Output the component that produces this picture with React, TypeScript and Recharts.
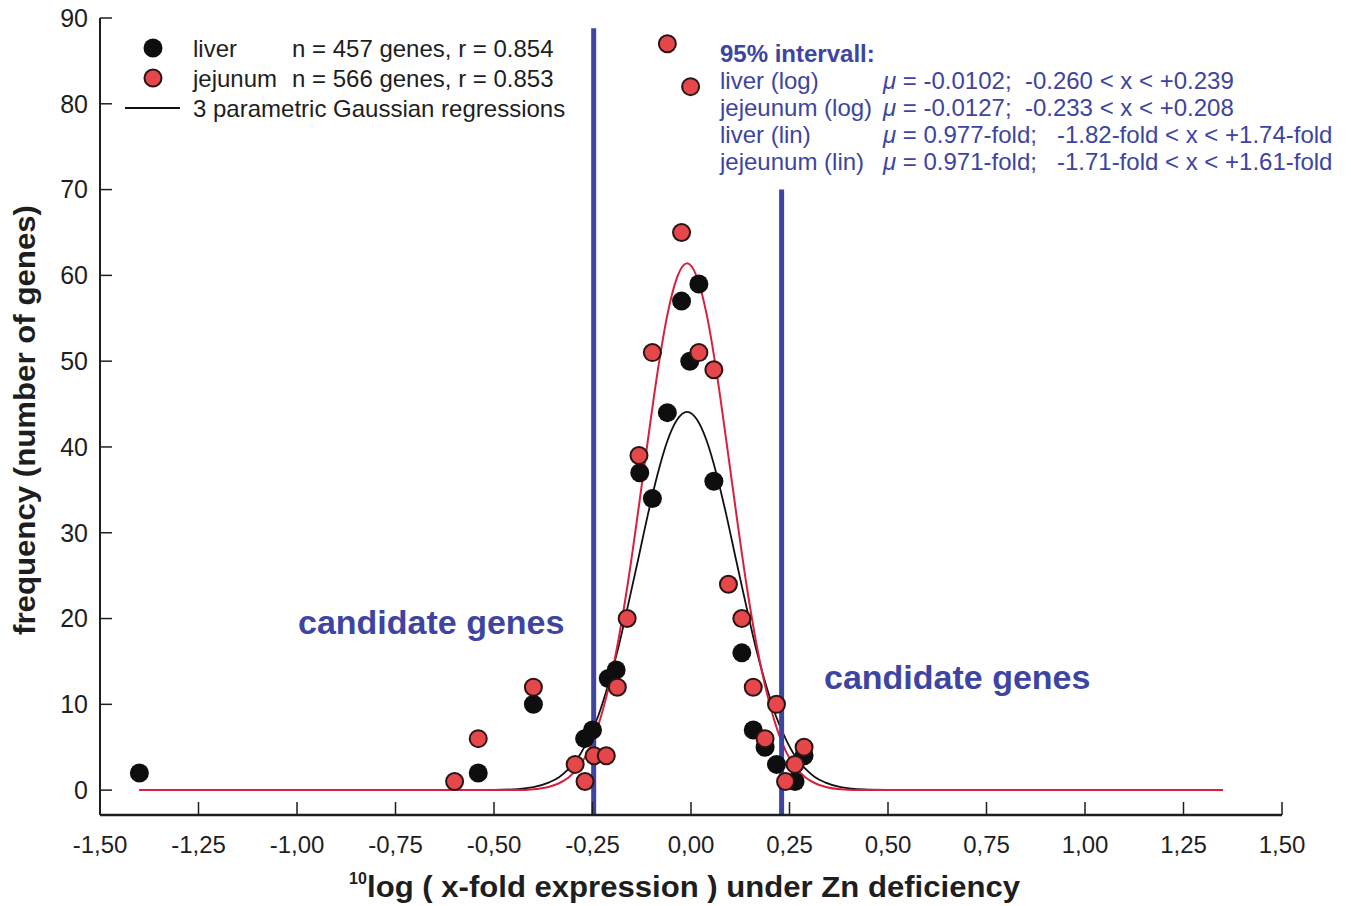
import { ComposedChart, Line, Scatter, XAxis, YAxis, ReferenceLine } from "recharts";

const FONT = '"Liberation Sans", Arial, Helvetica, sans-serif';
const BLUE = "#3d44a2";
const INK = "#1e1e1e";

// axis ticks
const xTicks = [-1.5, -1.25, -1, -0.75, -0.5, -0.25, 0, 0.25, 0.5, 0.75, 1, 1.25, 1.5];
const yTicks = [0, 10, 20, 30, 40, 50, 60, 70, 80, 90];

const liverX = [-1.4, -0.54, -0.4, -0.27, -0.25, -0.21, -0.19, -0.13, -0.098, -0.06, -0.024, -0.003, 0.02, 0.058, 0.129, 0.158, 0.188, 0.217, 0.264, 0.287];
const liverY = [2, 2, 10, 6, 7, 13, 14, 37, 34, 44, 57, 50, 59, 36, 16, 7, 5, 3, 1, 4];
const jejunumX = [-0.6, -0.54, -0.4, -0.294, -0.269, -0.246, -0.215, -0.187, -0.162, -0.132, -0.098, -0.06, -0.024, -0.001, 0.02, 0.058, 0.095, 0.129, 0.158, 0.188, 0.217, 0.24, 0.264, 0.287];
const jejunumY = [1, 6, 12, 3, 1, 4, 4, 12, 20, 39, 51, 87, 65, 82, 51, 49, 24, 20, 12, 6, 10, 1, 3, 5];

// gaussian regression curves
const fitX = [
  -1.4, -0.6, -0.5, -0.44, -0.4,
  -0.36, -0.335, -0.31, -0.285, -0.26, -0.235, -0.21, -0.185, -0.16, -0.135, -0.11, -0.085, -0.06, -0.035,
  -0.01,
  0.015, 0.04, 0.065, 0.09, 0.115, 0.14, 0.165, 0.19, 0.215, 0.24, 0.265, 0.29, 0.315, 0.34,
  0.38, 0.44, 0.5, 0.6, 1.35,
];
const liverFit = [
  0, 0, 0.03, 0.12, 0.34,
  0.9, 1.5, 2.5, 3.9, 6.0, 8.7, 12.3, 16.5, 21.5, 26.7, 32.0, 36.8, 40.7, 43.2,
  44.1,
  43.2, 40.7, 36.8, 32.0, 26.7, 21.5, 16.5, 12.3, 8.7, 6.0, 3.9, 2.5, 1.5, 0.9,
  0.34, 0.07, 0.02, 0, 0,
];
const jejunumFit = [
  0, 0, 0, 0, 0.1,
  0.4, 0.8, 1.5, 2.7, 4.6, 7.6, 11.8, 17.3, 24.2, 32.2, 40.6, 48.7, 55.4, 59.8,
  61.4,
  59.8, 55.4, 48.7, 40.6, 32.2, 24.2, 17.3, 11.8, 7.6, 4.6, 2.7, 1.5, 0.8, 0.4,
  0.1, 0, 0, 0, 0,
];

// 95% interval bounds (blue bars)
const intervalX = [-0.247, 0.23];
const intervalTop = [88.8, 70];

const liverPts = liverX.map((x, i) => ({ x, y: liverY[i] }));
const jejunumPts = jejunumX.map((x, i) => ({ x, y: jejunumY[i] }));
const liverCurve = fitX.map((x, i) => ({ x, y: liverFit[i] }));
const jejunumCurve = fitX.map((x, i) => ({ x, y: jejunumFit[i] }));

const LiverDot = (p: any) => <circle cx={p.cx} cy={p.cy} r={9.5} fill="#0e0e0e" />;
const JejunumDot = (p: any) => (
  <circle cx={p.cx} cy={p.cy} r={8.5} fill="#e5474b" stroke="#2a1515" strokeWidth={2} />
);

const fmt = (v: number) => v.toFixed(2).replace(".", ",");

export default function App() {
  const txt = { fontFamily: FONT, fontSize: 24, fill: INK };
  const blueTxt = { fontFamily: FONT, fontSize: 24, fill: BLUE };
  const bigBlue = { fontFamily: FONT, fontSize: 34, fontWeight: "bold", fill: BLUE };
  return (
    <div style={{ position: "absolute", left: 0, top: 0 }}>
      <ComposedChart
        width={1351}
        height={906}
        margin={{ top: 18, right: 69, left: 40, bottom: 51 }}
      >
        <XAxis
          type="number"
          dataKey="x"
          domain={[-1.5, 1.5]}
          ticks={xTicks}
          tickFormatter={fmt}
          height={40}
          tickSize={-13}
          tickMargin={34}
          axisLine={{ stroke: INK, strokeWidth: 2.5 }}
          tickLine={{ stroke: INK, strokeWidth: 1.5 }}
          tick={{ fill: INK, fontSize: 24, fontFamily: FONT }}
          allowDataOverflow
        />
        <YAxis
          type="number"
          dataKey="y"
          domain={[-2.9, 90]}
          ticks={yTicks}
          width={60}
          tickSize={-12}
          tickMargin={24}
          axisLine={{ stroke: INK, strokeWidth: 2 }}
          tickLine={{ stroke: INK, strokeWidth: 1.5 }}
          tick={{ fill: INK, fontSize: 25, fontFamily: FONT }}
          allowDataOverflow
        />
        <Line
          data={liverCurve}
          dataKey="y"
          type="monotone"
          stroke="#111"
          strokeWidth={1.8}
          dot={false}
          isAnimationActive={false}
        />
        <Line
          data={jejunumCurve}
          dataKey="y"
          type="monotone"
          stroke="#d8203c"
          strokeWidth={2}
          dot={false}
          isAnimationActive={false}
        />
        <Scatter data={liverPts} dataKey="y" shape={LiverDot} isAnimationActive={false} />
        <Scatter data={jejunumPts} dataKey="y" shape={JejunumDot} isAnimationActive={false} />
        {intervalX.map((x, i) => (
          <ReferenceLine
            key={i}
            segment={[{ x, y: -2.9 }, { x, y: intervalTop[i] }]}
            stroke={BLUE}
            strokeWidth={5}
            ifOverflow="visible"
          />
        ))}

        {/* legend */}
        <circle cx={153} cy={48} r={9.5} fill="#0e0e0e" />
        <circle cx={153} cy={78} r={8.5} fill="#e5474b" stroke="#2a1515" strokeWidth={2} />
        <line x1={125} x2={180} y1={108} y2={108} stroke="#111" strokeWidth={1.8} />
        <text x={193} y={57} style={txt}>liver</text>
        <text x={292} y={57} style={txt}>n = 457 genes, r = 0.854</text>
        <text x={193} y={87} style={txt}>jejunum</text>
        <text x={292} y={87} style={txt}>n = 566 genes, r = 0.853</text>
        <text x={193} y={117} style={txt}>3 parametric Gaussian regressions</text>

        {/* interval annotation */}
        <text x={720} y={62} style={{ ...blueTxt, fontWeight: "bold" }}>95% intervall:</text>
        <text x={720} y={89} style={blueTxt}>liver (log)</text>
        <text x={720} y={116} style={blueTxt}>jejeunum (log)</text>
        <text x={720} y={143} style={blueTxt}>liver (lin)</text>
        <text x={720} y={170} style={blueTxt}>jejeunum (lin)</text>
        <text x={883} y={89} style={{ ...blueTxt, whiteSpace: "pre" }}>
          <tspan fontStyle="italic">μ</tspan> = -0.0102;  -0.260 &lt; x &lt; +0.239
        </text>
        <text x={883} y={116} style={{ ...blueTxt, whiteSpace: "pre" }}>
          <tspan fontStyle="italic">μ</tspan> = -0.0127;  -0.233 &lt; x &lt; +0.208
        </text>
        <text x={883} y={143} style={{ ...blueTxt, whiteSpace: "pre" }}>
          <tspan fontStyle="italic">μ</tspan> = 0.977-fold;   -1.82-fold &lt; x &lt; +1.74-fold
        </text>
        <text x={883} y={170} style={{ ...blueTxt, whiteSpace: "pre" }}>
          <tspan fontStyle="italic">μ</tspan> = 0.971-fold;   -1.71-fold &lt; x &lt; +1.61-fold
        </text>

        <text x={298} y={634} style={bigBlue}>candidate genes</text>
        <text x={824} y={689} style={bigBlue}>candidate genes</text>

        {/* axis titles */}
        <text
          x={35}
          y={420}
          transform="rotate(-90 35 420)"
          textAnchor="middle"
          textLength={430}
          lengthAdjust="spacingAndGlyphs"
          style={{ fontFamily: FONT, fontSize: 29, fontWeight: "bold", fill: INK }}
        >
          frequency (number of genes)
        </text>
        <text x={349} y={884} style={{ fontFamily: FONT, fontSize: 16, fontWeight: "bold", fill: INK }}>
          10
        </text>
        <text
          x={367}
          y={897}
          textLength={653}
          lengthAdjust="spacingAndGlyphs"
          style={{ fontFamily: FONT, fontSize: 29, fontWeight: "bold", fill: INK }}
        >
          log ( x-fold expression ) under Zn deficiency
        </text>
      </ComposedChart>
    </div>
  );
}
